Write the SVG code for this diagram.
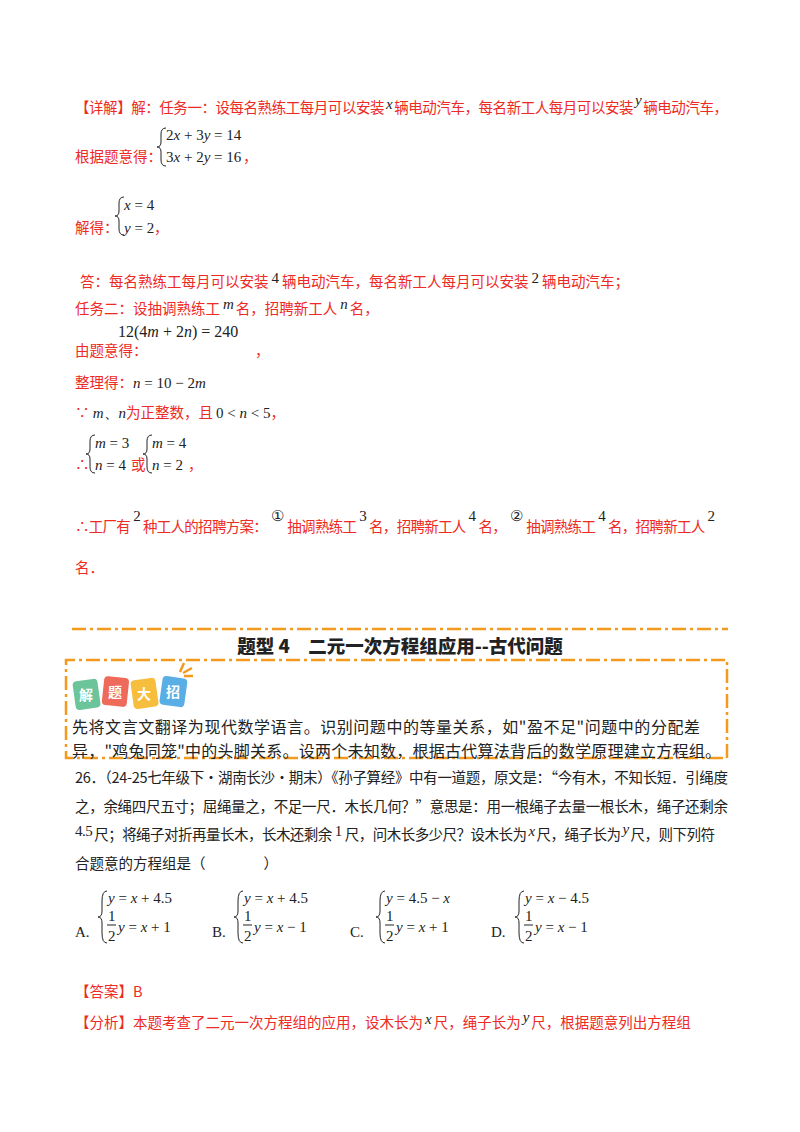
<svg xmlns="http://www.w3.org/2000/svg" width="800" height="1132" viewBox="0 0 800 1132">
<style>
text{font-family:"Noto Sans CJK SC","Liberation Serif",serif;font-size:14.5px}
.r{fill:#ee2a24}
.k{fill:#222}
.m{font-family:"Liberation Serif",serif;font-style:italic;font-size:15px;fill:#222}
.n{font-family:"Liberation Serif",serif;font-size:15px;fill:#222}
.br{fill:none;stroke:#222;stroke-width:1}
.dd{stroke:#f39a1e;stroke-width:2.5;stroke-dasharray:14 4 3 4;fill:none}
</style>
<rect width="800" height="1132" fill="#fff"/>
<g id="solution">
<text x="75" y="113" class="r" textLength="653">【详解】解：任务一：设每名熟练工每月可以安装<tspan class="m" dy="-4" dx="2">x</tspan><tspan dy="4" dx="2">辆电动汽车，每名新工人每月可以安装</tspan><tspan class="m" dy="-8" dx="2">y</tspan><tspan dy="8" dx="2">辆电动汽车，</tspan></text>
<path class="br" d="M166 128 q-5 0 -5 6 v8 q0 5 -4 5 q4 0 4 5 v8 q0 6 5 6"/>
<text x="166" y="140" class="n">2<tspan class="m">x</tspan> + 3<tspan class="m">y</tspan> = 14</text>
<text x="166" y="162" class="n">3<tspan class="m">x</tspan> + 2<tspan class="m">y</tspan> = 16</text>
<text x="75" y="162" class="r">根据题意得：</text>
<text x="243" y="162" class="r">，</text>
<path class="br" d="M124 197 q-5 0 -5 6 v8 q0 5 -4 5 q4 0 4 5 v8 q0 6 5 6"/>
<text x="124" y="210" class="n"><tspan class="m">x</tspan> = 4</text>
<text x="124" y="233" class="n"><tspan class="m">y</tspan> = 2</text>
<text x="75" y="233" class="r">解得：</text>
<text x="154" y="233" class="r">，</text>
<text x="80" y="287" class="r">答：每名熟练工每月可以安装<tspan class="n" dy="-4" dx="3">4</tspan><tspan dy="4" dx="3">辆电动汽车，每名新工人每月可以安装</tspan><tspan class="n" dy="-4" dx="3">2</tspan><tspan dy="4" dx="3">辆电动汽车；</tspan></text>
<text x="75" y="314" class="r">任务二：设抽调熟练工<tspan class="m" dy="-5" dx="3">m</tspan><tspan dy="5" dx="2">名，招聘新工人</tspan><tspan class="m" dy="-5" dx="3">n</tspan><tspan dy="5" dx="2">名，</tspan></text>
<text x="118" y="337" class="n" style="font-size:16px">12(4<tspan class="m" style="font-size:16px">m</tspan> + 2<tspan class="m" style="font-size:16px">n</tspan>) = 240</text>
<text x="75" y="356" class="r">由题意得：</text>
<text x="255" y="356" class="r">，</text>
<text x="75" y="388" class="r">整理得：<tspan class="n"><tspan class="m">n</tspan> = 10 − 2<tspan class="m">m</tspan></tspan></text>
<text x="75" y="418" class="r">∵ <tspan class="n"><tspan class="m">m</tspan>、<tspan class="m">n</tspan></tspan>为正整数，且<tspan class="n" dx="3">0 &lt; <tspan class="m">n</tspan> &lt; 5</tspan>，</text>
<text x="75" y="470" class="r">∴</text>
<path class="br" d="M95 435 q-5 0 -5 6 v8 q0 5 -4 5 q4 0 4 5 v8 q0 6 5 6"/>
<text x="95" y="448" class="n"><tspan class="m">m</tspan> = 3</text>
<text x="95" y="470" class="n"><tspan class="m">n</tspan> = 4</text>
<text x="131" y="470" class="r">或</text>
<path class="br" d="M152 435 q-5 0 -5 6 v8 q0 5 -4 5 q4 0 4 5 v8 q0 6 5 6"/>
<text x="152" y="448" class="n"><tspan class="m">m</tspan> = 4</text>
<text x="152" y="470" class="n"><tspan class="m">n</tspan> = 2</text>
<text x="188" y="470" class="r">，</text>
<text x="75" y="532" class="r" textLength="640">∴工厂有<tspan class="n" dy="-11" dx="3">2</tspan><tspan dy="11" dx="3">种工人的招聘方案：</tspan><tspan class="n" dy="-11" dx="4">①</tspan><tspan dy="11" dx="4">抽调熟练工</tspan><tspan class="n" dy="-11" dx="3">3</tspan><tspan dy="11" dx="3">名，招聘新工人</tspan><tspan class="n" dy="-11" dx="3">4</tspan><tspan dy="11" dx="3">名，</tspan><tspan class="n" dy="-11" dx="4">②</tspan><tspan dy="11" dx="4">抽调熟练工</tspan><tspan class="n" dy="-11" dx="3">4</tspan><tspan dy="11" dx="3">名，招聘新工人</tspan><tspan class="n" dy="-11" dx="3">2</tspan></text>
<text x="75" y="573" class="r">名．</text>
</g>
<g id="section">
<path class="dd" d="M72 629 H728"/>
<text x="400" y="653" text-anchor="middle" style="font-size:18.5px;font-weight:900" class="k">题型 4　二元一次方程组应用--古代问题</text>
<path class="dd" d="M727 758 V660 H66 V758 H727"/>
<g id="icon" font-weight="bold" text-anchor="middle">
<rect x="74" y="680" width="25" height="29" rx="4" fill="#6cc49a" transform="rotate(-8 86 694)"/>
<text x="86" y="700" fill="#fff" style="font-size:14px">解</text>
<rect x="103" y="677" width="25" height="29" rx="4" fill="#ee6a5a" transform="rotate(6 115 691)"/>
<text x="115" y="697" fill="#fff" style="font-size:14px">题</text>
<rect x="132" y="679" width="25" height="29" rx="4" fill="#f7bd3c" transform="rotate(-8 144 693)"/>
<text x="144" y="699" fill="#fff" style="font-size:14px">大</text>
<rect x="161" y="677" width="25" height="29" rx="4" fill="#5aaee6" transform="rotate(8 173 691)"/>
<text x="173" y="697" fill="#fff" style="font-size:14px">招</text>
<path d="M180 672 l4 -9 M183 673 l9 -5 M184 676 l9 0" stroke="#f39a1e" stroke-width="2.5"/>
</g>
<text x="72" y="733" class="k" style="font-size:16px" textLength="628">先将文言文翻译为现代数学语言。识别问题中的等量关系，如"盈不足"问题中的分配差</text>
<text x="72" y="757" class="k" style="font-size:16px" textLength="649">异，"鸡兔同笼"中的头脚关系。设两个未知数，根据古代算法背后的数学原理建立方程组。</text>
</g>
<g id="question">
<text x="75" y="783" class="k" textLength="653">26．（24-25七年级下·湖南长沙·期末）《孙子算经》中有一道题，原文是：“今有木，不知长短．引绳度</text>
<text x="75" y="812" class="k" textLength="653">之，余绳四尺五寸；屈绳量之，不足一尺．木长几何？”意思是：用一根绳子去量一根长木，绳子还剩余</text>
<text x="75" y="840" class="k" textLength="640"><tspan class="n" dy="-4">4.5</tspan><tspan dy="4" dx="2">尺；将绳子对折再量长木，长木还剩余</tspan><tspan class="n" dy="-4" dx="3">1</tspan><tspan dy="4" dx="3">尺，问木长多少尺？设木长为</tspan><tspan class="m" dy="-4" dx="2">x</tspan><tspan dy="4" dx="2">尺，绳子长为</tspan><tspan class="m" dy="-6" dx="2">y</tspan><tspan dy="6" dx="2">尺，则下列符</tspan></text>
<text x="75" y="869" class="k">合题意的方程组是（　　　　）</text>
<g id="options">
<text x="75" y="937" class="n">A.</text>
<path class="br" d="M107 891 q-5 0 -5 10 v10 q0 6 -4 6 q4 0 4 6 v10 q0 10 5 10"/>
<text x="108" y="903" class="n"><tspan class="m">y</tspan> = <tspan class="m">x</tspan> + 4.5</text>
<text x="108" y="921" class="n">1</text><path d="M107 925 H116" stroke="#222"/><text x="108" y="941" class="n">2</text>
<text x="118" y="932" class="n"><tspan class="m">y</tspan> = <tspan class="m">x</tspan> + 1</text>
<text x="212" y="937" class="n">B.</text>
<path class="br" d="M243 891 q-5 0 -5 10 v10 q0 6 -4 6 q4 0 4 6 v10 q0 10 5 10"/>
<text x="244" y="903" class="n"><tspan class="m">y</tspan> = <tspan class="m">x</tspan> + 4.5</text>
<text x="244" y="921" class="n">1</text><path d="M243 925 H252" stroke="#222"/><text x="244" y="941" class="n">2</text>
<text x="254" y="932" class="n"><tspan class="m">y</tspan> = <tspan class="m">x</tspan> − 1</text>
<text x="350" y="937" class="n">C.</text>
<path class="br" d="M385 891 q-5 0 -5 10 v10 q0 6 -4 6 q4 0 4 6 v10 q0 10 5 10"/>
<text x="386" y="903" class="n"><tspan class="m">y</tspan> = 4.5 − <tspan class="m">x</tspan></text>
<text x="386" y="921" class="n">1</text><path d="M385 925 H394" stroke="#222"/><text x="386" y="941" class="n">2</text>
<text x="396" y="932" class="n"><tspan class="m">y</tspan> = <tspan class="m">x</tspan> + 1</text>
<text x="491" y="937" class="n">D.</text>
<path class="br" d="M524 891 q-5 0 -5 10 v10 q0 6 -4 6 q4 0 4 6 v10 q0 10 5 10"/>
<text x="525" y="903" class="n"><tspan class="m">y</tspan> = <tspan class="m">x</tspan> − 4.5</text>
<text x="525" y="921" class="n">1</text><path d="M524 925 H533" stroke="#222"/><text x="525" y="941" class="n">2</text>
<text x="535" y="932" class="n"><tspan class="m">y</tspan> = <tspan class="m">x</tspan> − 1</text>
</g>
<text x="75" y="997" class="r">【答案】B</text>
<text x="75" y="1028" class="r">【分析】本题考查了二元一次方程组的应用，设木长为<tspan class="m" dy="-4" dx="2">x</tspan><tspan dy="4" dx="2">尺，绳子长为</tspan><tspan class="m" dy="-6" dx="2">y</tspan><tspan dy="6" dx="2">尺，根据题意列出方程组</tspan></text>
</g>
</svg>
